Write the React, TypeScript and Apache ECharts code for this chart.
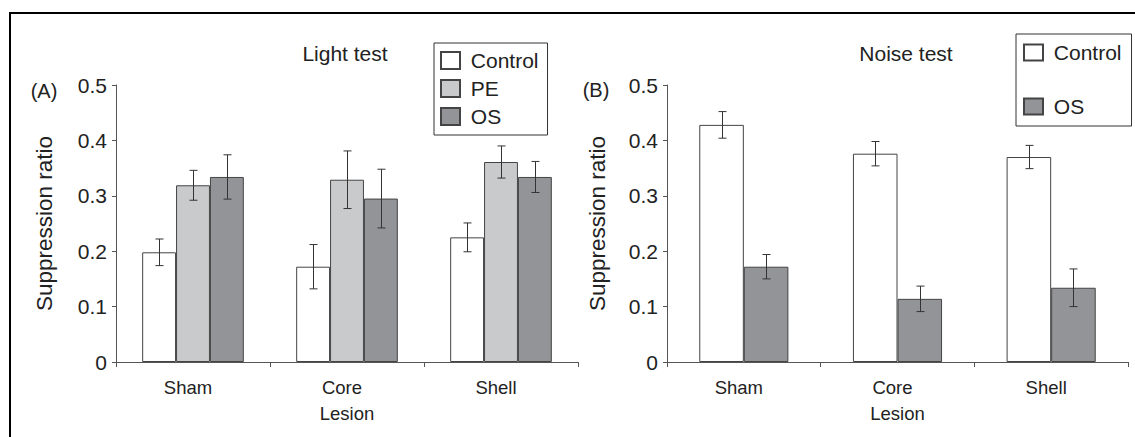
import React, { useEffect, useRef } from "react";
import * as echarts from "echarts";

const categories = ["Sham", "Core", "Shell"];
const yTicks = [0, 0.1, 0.2, 0.3, 0.4, 0.5];

const lightControl = [0.198, 0.172, 0.225];
const lightControlSem = [0.024, 0.04, 0.026];
const lightPE = [0.319, 0.329, 0.361];
const lightPESem = [0.027, 0.052, 0.029];
const lightOS = [0.334, 0.295, 0.334];
const lightOSSem = [0.04, 0.053, 0.028];

const noiseControl = [0.428, 0.376, 0.37];
const noiseControlSem = [0.024, 0.022, 0.021];
const noiseOS = [0.172, 0.114, 0.134];
const noiseOSSem = [0.022, 0.023, 0.034];

const FONT = "Liberation Sans, Arial, Helvetica, sans-serif";
const TXT = "#222";
const AX = "#555";
const C_WHITE = "#ffffff";
const C_PE = "#c9cacc";
const C_OS = "#939497";

const LIGHT_GAP = 0.34;
const NOISE_GAP = 0.42;

function errData(groups: { mean: number[]; sem: number[] }[]) {
  const out: number[][] = [];
  groups.forEach((g, k) => {
    g.mean.forEach((m, ci) => {
      out.push([ci, m - g.sem[ci], m + g.sem[ci], k]);
    });
  });
  return out;
}

function makeRender(n: number, gap: number) {
  return (params: any, api: any) => {
    const ci = api.value(0);
    const lo = api.value(1);
    const hi = api.value(2);
    const k = api.value(3);
    const pLo = api.coord([ci, lo]);
    const pHi = api.coord([ci, hi]);
    const band = api.size([1, 0])[0];
    const bw = (band * (1 - gap)) / n;
    const x = Math.round(pLo[0] + (k - (n - 1) / 2) * bw) + 0.5;
    const cap = 4;
    const st = { stroke: "#333", lineWidth: 1 };
    return {
      type: "group",
      children: [
        { type: "line", shape: { x1: x, y1: pLo[1], x2: x, y2: pHi[1] }, style: st },
        { type: "line", shape: { x1: x - cap, y1: pLo[1], x2: x + cap, y2: pLo[1] }, style: st },
        { type: "line", shape: { x1: x - cap, y1: pHi[1], x2: x + cap, y2: pHi[1] }, style: st },
      ],
    };
  };
}

function xAxisCfg(gridIndex: number) {
  return {
    type: "category",
    gridIndex,
    data: categories,
    name: "Lesion",
    nameLocation: "middle",
    nameGap: 42,
    nameTextStyle: { fontSize: 18.5, color: TXT, fontFamily: FONT },
    axisLine: { lineStyle: { color: AX, width: 1 } },
    axisTick: { show: true, length: 5, lineStyle: { color: AX } },
    axisLabel: { fontSize: 18.5, color: TXT, fontFamily: FONT, margin: 16, padding: [0, 10, 0, 0] },
    splitLine: { show: false },
  };
}

function yAxisCfg(gridIndex: number, nameGap: number) {
  return {
    type: "value",
    gridIndex,
    min: 0,
    max: 0.5,
    interval: 0.1,
    name: "Suppression ratio",
    nameLocation: "middle",
    nameRotate: 90,
    nameGap,
    nameTextStyle: { fontSize: 22.5, color: TXT, fontFamily: FONT },
    axisLine: { show: true, lineStyle: { color: AX, width: 1 } },
    axisTick: { show: true, length: 4, lineStyle: { color: AX } },
    axisLabel: {
      fontSize: 21,
      color: TXT,
      fontFamily: FONT,
      margin: 9,
      formatter: (v: number) => {
        const t = yTicks.find((y) => Math.abs(y - v) < 1e-9);
        return t === undefined ? "" : String(t);
      },
    },
    splitLine: { show: false },
  };
}

function barSeries(name: string, data: number[], color: string, idx: number, gap: number) {
  return {
    type: "bar",
    name,
    xAxisIndex: idx,
    yAxisIndex: idx,
    data,
    barGap: "0%",
    barCategoryGap: `${gap * 100}%`,
    itemStyle: { color, borderColor: "#444", borderWidth: 1 },
    emphasis: { disabled: true },
  };
}

export default function App() {
  const ref = useRef<HTMLDivElement>(null);
  useEffect(() => {
    if (!ref.current) return;
    const chart = echarts.init(ref.current, null, { renderer: "svg" });
    const option: any = {
      animation: false,
      backgroundColor: "#ffffff",
      textStyle: { fontFamily: FONT },
      grid: [
        { left: 116, top: 85, width: 462, height: 277 },
        { left: 667, top: 85, width: 461, height: 277 },
      ],
      xAxis: [xAxisCfg(0), xAxisCfg(1)],
      yAxis: [yAxisCfg(0, 60), yAxisCfg(1, 58)],
      legend: [
        {
          orient: "vertical",
          left: 434,
          top: 43,
          data: ["Control", "PE", "OS"],
          icon: "rect",
          itemWidth: 19,
          itemHeight: 17,
          itemGap: 7,
          padding: [7, 9, 8, 6],
          borderColor: "#333",
          borderWidth: 1,
          selectedMode: false,
          formatter: (n: string) => " " + n,
          textStyle: { fontSize: 21, color: TXT, fontFamily: FONT },
        },
        {
          orient: "vertical",
          left: 1016,
          top: 34,
          data: ["Control", "OS"],
          icon: "rect",
          itemWidth: 19,
          itemHeight: 16,
          itemGap: 33,
          padding: [8, 10, 9, 7],
          borderColor: "#333",
          borderWidth: 1,
          selectedMode: false,
          formatter: (n: string) => " " + n,
          textStyle: { fontSize: 21, color: TXT, fontFamily: FONT },
        },
      ],
      series: [
        barSeries("Control", lightControl, C_WHITE, 0, LIGHT_GAP),
        barSeries("PE", lightPE, C_PE, 0, LIGHT_GAP),
        barSeries("OS", lightOS, C_OS, 0, LIGHT_GAP),
        barSeries("Control", noiseControl, C_WHITE, 1, NOISE_GAP),
        barSeries("OS", noiseOS, C_OS, 1, NOISE_GAP),
        {
          type: "custom",
          name: "lightErr",
          xAxisIndex: 0,
          yAxisIndex: 0,
          z: 5,
          data: errData([
            { mean: lightControl, sem: lightControlSem },
            { mean: lightPE, sem: lightPESem },
            { mean: lightOS, sem: lightOSSem },
          ]),
          encode: { x: 0, y: [1, 2] },
          renderItem: makeRender(3, LIGHT_GAP),
          silent: true,
        },
        {
          type: "custom",
          name: "noiseErr",
          xAxisIndex: 1,
          yAxisIndex: 1,
          z: 5,
          data: errData([
            { mean: noiseControl, sem: noiseControlSem },
            { mean: noiseOS, sem: noiseOSSem },
          ]),
          encode: { x: 0, y: [1, 2] },
          renderItem: makeRender(2, NOISE_GAP),
          silent: true,
        },
      ],
      graphic: [
        {
          type: "rect",
          shape: { x: 10, y: 13, width: 1140, height: 460 },
          style: { fill: "none", stroke: "#000", lineWidth: 2 },
          silent: true,
        },
        {
          type: "text",
          x: 345,
          y: 53,
          style: { text: "Light test", fontSize: 21, fill: TXT, fontFamily: FONT, align: "center", verticalAlign: "middle" },
        },
        {
          type: "text",
          x: 906,
          y: 53,
          style: { text: "Noise test", fontSize: 21, fill: TXT, fontFamily: FONT, align: "center", verticalAlign: "middle" },
        },
        {
          type: "text",
          x: 44,
          y: 91,
          style: { text: "(A)", fontSize: 20, fill: TXT, fontFamily: FONT, align: "center", verticalAlign: "middle" },
        },
        {
          type: "text",
          x: 596,
          y: 90,
          style: { text: "(B)", fontSize: 20, fill: TXT, fontFamily: FONT, align: "center", verticalAlign: "middle" },
        },
      ],
    };
    chart.setOption(option);
    return () => chart.dispose();
  }, []);
  return (
    <div
      ref={ref}
      style={{ position: "absolute", left: 0, top: 0, width: 1135, height: 437, background: "#fff" }}
    />
  );
}
